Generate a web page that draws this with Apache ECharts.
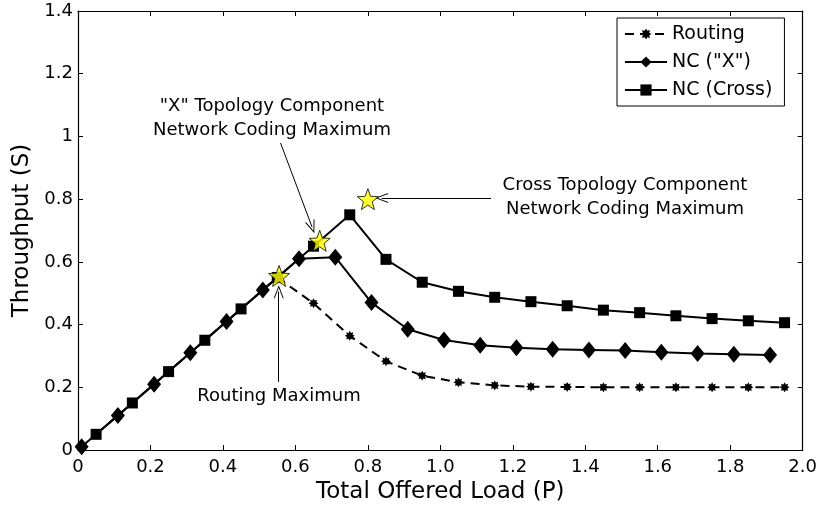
<!DOCTYPE html>
<html>
<head>
<meta charset="utf-8">
<script src="https://cdn.jsdelivr.net/npm/echarts@6/dist/echarts.min.js"></script>
<style>
  html, body { margin: 0; padding: 0; background: #fff; }
  #chart { width: 820px; height: 510px; }
</style>
</head>
<body>
<div id="chart"></div>
<script>
// Offered load (P) for each series and the measured throughput (S)
const loadRouting = [0.05, 0.15, 0.25, 0.35, 0.45, 0.55, 0.65, 0.75, 0.85, 0.95, 1.05, 1.15, 1.25, 1.35, 1.45, 1.55, 1.65, 1.75, 1.85, 1.95];
const routing     = [0.05, 0.15, 0.25, 0.35, 0.45, 0.55, 0.468, 0.364, 0.283, 0.237, 0.216, 0.206, 0.202, 0.201, 0.200, 0.200, 0.200, 0.200, 0.200, 0.200];

const loadX = [0.01, 0.11, 0.21, 0.31, 0.41, 0.51, 0.61, 0.71, 0.81, 0.91, 1.01, 1.11, 1.21, 1.31, 1.41, 1.51, 1.61, 1.71, 1.81, 1.91];
const ncX   = [0.01, 0.11, 0.21, 0.31, 0.41, 0.51, 0.61, 0.615, 0.470, 0.385, 0.351, 0.334, 0.326, 0.321, 0.319, 0.317, 0.312, 0.308, 0.305, 0.303];

const loadCross = [0.05, 0.15, 0.25, 0.35, 0.45, 0.55, 0.65, 0.75, 0.85, 0.95, 1.05, 1.15, 1.25, 1.35, 1.45, 1.55, 1.65, 1.75, 1.85, 1.95];
const ncCross   = [0.05, 0.15, 0.25, 0.35, 0.45, 0.55, 0.65, 0.75, 0.608, 0.535, 0.506, 0.487, 0.473, 0.460, 0.446, 0.438, 0.428, 0.419, 0.412, 0.406];

// Theoretical maxima (routing, "X" topology, cross topology)
const maxLoad       = [0.555, 0.667, 0.8];
const maxThroughput = [0.555, 0.667, 0.8];

// Axis tick labels
const xTickLabels = ['0', '0.2', '0.4', '0.6', '0.8', '1.0', '1.2', '1.4', '1.6', '1.8', '2.0'];
const yTickLabels = ['0', '0.2', '0.4', '0.6', '0.8', '1', '1.2', '1.4'];

const seriesNames = ['Routing', 'NC ("X")', 'NC (Cross)'];

const FONT = 'DejaVu Sans';

function pairs(xs, ys) { return xs.map((x, i) => [x, ys[i]]); }

// Polygon path for a star/burst symbol
function starPath(points, inner) {
  let d = '';
  for (let i = 0; i < points * 2; i++) {
    const r = i % 2 === 0 ? 10 : 10 * inner;
    const a = -Math.PI / 2 + i * Math.PI / points;
    const x = (10 + r * Math.cos(a)).toFixed(2);
    const y = (10 + r * Math.sin(a)).toFixed(2);
    d += (i === 0 ? 'M' : 'L') + x + ',' + y + ' ';
  }
  return 'path://' + d + 'Z';
}
const starSymbol = starPath(5, 0.42);
const burstSymbol = starPath(8, 0.62);
const openArrow = 'path://M0,13 L5,0 L10,13 L9,13 L5,2.5 L1,13 Z';

const chart = echarts.init(document.getElementById('chart'), null, { renderer: 'canvas' });

const axisCommon = {
  type: 'value',
  axisLine: { show: true, onZero: false, lineStyle: { color: '#000', width: 1.2 } },
  axisTick: { show: true, inside: true, length: 5, lineStyle: { color: '#000', width: 1 } },
  splitLine: { show: false }
};

const arrowLine = (from, to) => [
  { coord: from, symbol: 'none' },
  { coord: to, symbol: openArrow, symbolSize: [10, 13] }
];

const option = {
  backgroundColor: '#fff',
  animation: false,
  grid: { left: 78, right: 16, top: 11, bottom: 60 },
  xAxis: [
    Object.assign({}, axisCommon, {
      min: 0, max: 2, interval: 0.2, position: 'bottom',
      name: 'Total Offered Load (P)', nameLocation: 'middle', nameGap: 25,
      nameTextStyle: { fontFamily: FONT, fontSize: 23, color: '#000', verticalAlign: 'top' },
      axisLabel: {
        margin: 8, color: '#000', fontFamily: FONT, fontSize: 18,
        formatter: v => xTickLabels[Math.round(v / 0.2)]
      }
    }),
    Object.assign({}, axisCommon, {
      min: 0, max: 2, interval: 0.2, position: 'top',
      axisLabel: { show: false }
    })
  ],
  yAxis: [
    Object.assign({}, axisCommon, {
      min: 0, max: 1.4, interval: 0.2, position: 'left',
      name: 'Throughput (S)', nameLocation: 'middle', nameGap: 42,
      nameTextStyle: { fontFamily: FONT, fontSize: 23, color: '#000' },
      axisLabel: {
        margin: 5, color: '#000', fontFamily: FONT, fontSize: 18,
        formatter: v => yTickLabels[Math.round(v / 0.2)]
      }
    }),
    Object.assign({}, axisCommon, {
      min: 0, max: 1.4, interval: 0.2, position: 'right',
      axisLabel: { show: false }
    })
  ],
  legend: {
    data: seriesNames,
    orient: 'vertical',
    left: 617, top: 18,
    padding: [6, 12, 6, 7],
    itemGap: 8,
    itemWidth: 42, itemHeight: 14,
    borderColor: '#000', borderWidth: 1, borderRadius: 0,
    backgroundColor: '#fff',
    textStyle: { fontFamily: FONT, fontSize: 19, color: '#000', lineHeight: 20 }
  },
  series: [
    {
      name: seriesNames[0], type: 'line', data: pairs(loadRouting, routing),
      symbol: burstSymbol, symbolSize: 10, showSymbol: true,
      lineStyle: { color: '#000', width: 2, type: [9, 6] },
      itemStyle: { color: '#000' }, z: 2
    },
    {
      name: seriesNames[1], type: 'line', data: pairs(loadX, ncX),
      symbol: 'diamond', symbolSize: [14, 17],
      lineStyle: { color: '#000', width: 2 },
      itemStyle: { color: '#000' }, z: 3
    },
    {
      name: seriesNames[2], type: 'line', data: pairs(loadCross, ncCross),
      symbol: 'rect', symbolSize: 11,
      lineStyle: { color: '#000', width: 2 },
      itemStyle: { color: '#000' }, z: 4
    },
    {
      name: 'Maxima', type: 'scatter', data: pairs(maxLoad, maxThroughput),
      symbol: starSymbol, symbolSize: 21,
      itemStyle: { color: '#ffff00', borderColor: '#000', borderWidth: 1 },
      z: 6,
      markLine: {
        silent: true,
        label: { show: false },
        lineStyle: { color: '#000', width: 1, type: 'solid' },
        data: [
          arrowLine([0.559, 0.979], [0.646, 0.711]),
          arrowLine([1.140, 0.804], [0.838, 0.804]),
          arrowLine([0.554, 0.217], [0.554, 0.505])
        ]
      }
    }
  ],
  graphic: [
    {
      type: 'text', x: 272, y: 118,
      style: {
        text: '"X" Topology Component\nNetwork Coding Maximum',
        align: 'center', verticalAlign: 'middle', lineHeight: 24,
        font: '18px "DejaVu Sans"', fill: '#000'
      }
    },
    {
      type: 'text', x: 625, y: 197,
      style: {
        text: 'Cross Topology Component\nNetwork Coding Maximum',
        align: 'center', verticalAlign: 'middle', lineHeight: 24,
        font: '18px "DejaVu Sans"', fill: '#000'
      }
    },
    {
      type: 'text', x: 279, y: 396,
      style: {
        text: 'Routing Maximum',
        align: 'center', verticalAlign: 'middle',
        font: '18px "DejaVu Sans"', fill: '#000'
      }
    }
  ]
};

chart.setOption(option);
</script>
</body>
</html>
